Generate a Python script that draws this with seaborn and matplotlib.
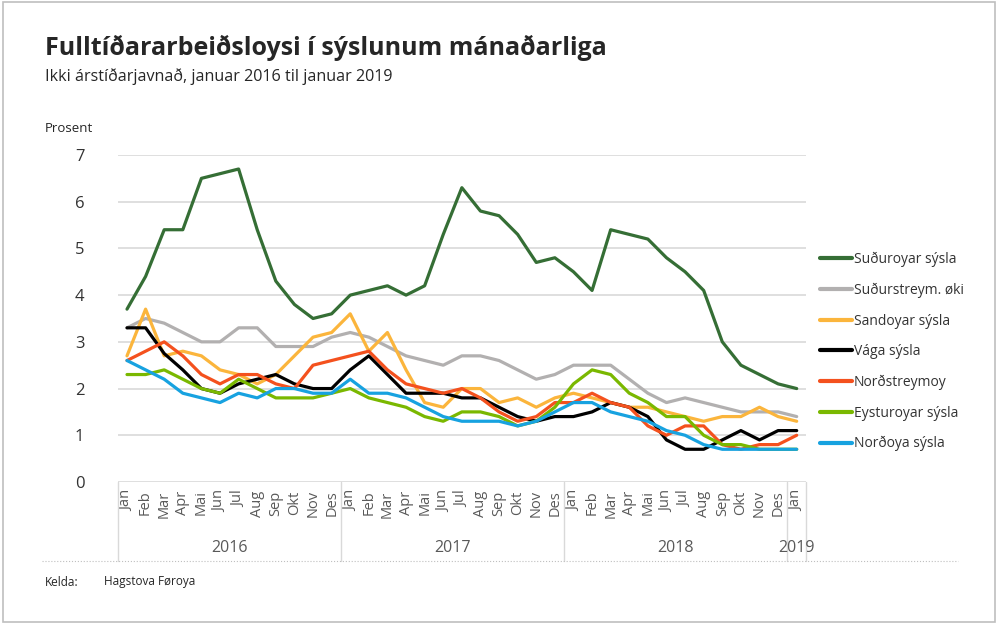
import matplotlib.pyplot as plt
import seaborn as sns
import pandas as pd
from matplotlib.lines import Line2D
from matplotlib.patches import Rectangle

months = ['Jan', 'Feb', 'Mar', 'Apr', 'Mai', 'Jun', 'Jul', 'Aug', 'Sep', 'Okt', 'Nov', 'Des'] * 3 + ['Jan']
years = ['2016', '2017', '2018', '2019']

names = ['Suðuroyar sýsla', 'Suðurstreym. øki', 'Sandoyar sýsla', 'Vága sýsla',
         'Norðstreymoy', 'Eysturoyar sýsla', 'Norðoya sýsla']
colors = ['#356e35', '#b2b0b0', '#fbb53c', '#000000', '#f4511e', '#7ab800', '#17a2e0']

suduroy = [3.7, 4.4, 5.4, 5.4, 6.5, 6.6, 6.7, 5.4, 4.3, 3.8, 3.5, 3.6,
           4.0, 4.1, 4.2, 4.0, 4.2, 5.3, 6.3, 5.8, 5.7, 5.3, 4.7, 4.8,
           4.5, 4.1, 5.4, 5.3, 5.2, 4.8, 4.5, 4.1, 3.0, 2.5, 2.3, 2.1, 2.0]
sudurstreym = [3.3, 3.5, 3.4, 3.2, 3.0, 3.0, 3.3, 3.3, 2.9, 2.9, 2.9, 3.1,
               3.2, 3.1, 2.9, 2.7, 2.6, 2.5, 2.7, 2.7, 2.6, 2.4, 2.2, 2.3,
               2.5, 2.5, 2.5, 2.2, 1.9, 1.7, 1.8, 1.7, 1.6, 1.5, 1.5, 1.5, 1.4]
sandoy = [2.7, 3.7, 2.7, 2.8, 2.7, 2.4, 2.3, 2.1, 2.3, 2.7, 3.1, 3.2,
          3.6, 2.8, 3.2, 2.4, 1.7, 1.6, 2.0, 2.0, 1.7, 1.8, 1.6, 1.8,
          1.9, 1.8, 1.7, 1.6, 1.6, 1.5, 1.4, 1.3, 1.4, 1.4, 1.6, 1.4, 1.3]
vaga = [3.3, 3.3, 2.75, 2.4, 2.0, 1.9, 2.1, 2.2, 2.3, 2.1, 2.0, 2.0,
        2.4, 2.7, 2.3, 1.9, 1.9, 1.9, 1.8, 1.8, 1.6, 1.4, 1.3, 1.4,
        1.4, 1.5, 1.7, 1.6, 1.4, 0.9, 0.7, 0.7, 0.9, 1.1, 0.9, 1.1, 1.1]
nordstreymoy = [2.6, 2.8, 3.0, 2.7, 2.3, 2.1, 2.3, 2.3, 2.1, 2.0, 2.5, 2.6,
                2.7, 2.8, 2.4, 2.1, 2.0, 1.9, 2.0, 1.8, 1.5, 1.3, 1.4, 1.7,
                1.7, 1.9, 1.7, 1.6, 1.2, 1.0, 1.2, 1.2, 0.8, 0.7, 0.8, 0.8, 1.0]
eysturoy = [2.3, 2.3, 2.4, 2.2, 2.0, 1.9, 2.2, 2.0, 1.8, 1.8, 1.8, 1.9,
            2.0, 1.8, 1.7, 1.6, 1.4, 1.3, 1.5, 1.5, 1.4, 1.2, 1.3, 1.6,
            2.1, 2.4, 2.3, 1.9, 1.7, 1.4, 1.4, 1.0, 0.8, 0.8, 0.7, 0.7, 0.7]
nordoy = [2.6, 2.4, 2.2, 1.9, 1.8, 1.7, 1.9, 1.8, 2.0, 2.0, 1.9, 1.9,
          2.2, 1.9, 1.9, 1.8, 1.6, 1.4, 1.3, 1.3, 1.3, 1.2, 1.3, 1.5,
          1.7, 1.7, 1.5, 1.4, 1.3, 1.1, 1.0, 0.8, 0.7, 0.7, 0.7, 0.7, 0.7]

values = [suduroy, sudurstreym, sandoy, vaga, nordstreymoy, eysturoy, nordoy]
df = pd.DataFrame({n: v for n, v in zip(names, values)})
df['idx'] = range(len(months))
long = df.melt(id_vars='idx', var_name='series', value_name='value')

sns.set_style('white')
plt.rcParams['font.family'] = ['Open Sans', 'DejaVu Sans']

fig = plt.figure(figsize=(10, 6.27), dpi=100)
ax = fig.add_axes([0.1177, 0.2313, 0.6883, 0.5215])
sns.lineplot(data=long, x='idx', y='value', hue='series', hue_order=names,
             palette=colors, linewidth=2.3, ax=ax, legend=False)

ax.set_xlim(-0.5, 36.5)
ax.set_ylim(0, 7)
ax.set_yticks(range(8))
ax.yaxis.grid(True, color='#d9d9d9', lw=1.2)
ax.set_axisbelow(True)
for s in ax.spines.values():
    s.set_visible(False)
ax.set_xlabel('')
ax.set_ylabel('')
ax.set_xticks(range(len(months)))
ax.set_xticklabels(months, rotation=90, fontsize=10.5, color='#595959')
ax.tick_params(axis='x', length=0, pad=6)
ax.tick_params(axis='y', length=0, pad=24, labelsize=12, labelcolor='#333333')

# year groups under the month labels
tr = ax.get_xaxis_transform()
for x in [-0.5, 11.5, 23.5, 35.5, 36.5]:
    ax.plot([x, x], [0, -0.2416], transform=tr, color='#d9d9d9', lw=1, clip_on=False)
for x, y in zip([5.5, 17.5, 29.5, 36], years):
    ax.text(x, -0.2018, y, transform=tr, ha='center', va='center', fontsize=11.5, color='#595959')

handles = [Line2D([], [], color=c, lw=3) for c in colors]
ax.legend(handles, names, loc='upper left', bbox_to_anchor=(0.82, 1 - 252 / 627),
          bbox_transform=fig.transFigure, frameon=False, fontsize=10,
          handlelength=2.3, handletextpad=0.15, labelspacing=1.12,
          borderpad=0, borderaxespad=0, labelcolor='#333333')

fig.text(0.045, 1 - 48 / 627, 'Fulltíðararbeiðsloysi í sýslunum mánaðarliga',
         fontsize=18, fontweight='bold', va='center')
fig.text(0.045, 1 - 77 / 627, 'Ikki árstíðarjavnað, januar 2016 til januar 2019',
         fontsize=11.6, va='center')
fig.text(0.045, 1 - 129 / 627, 'Prosent', fontsize=9.5, va='center')
fig.text(0.045, 1 - 582 / 627, 'Kelda:', fontsize=8.5, va='center')
fig.text(0.104, 1 - 582 / 627, 'Hagstova Føroya', fontsize=8.5, va='center')

fig.add_artist(Line2D([0.042, 0.958], [1 - 561 / 627] * 2, linestyle=':',
                      color='#bfbfbf', lw=0.8))
fig.add_artist(Rectangle((0.003, 1 - 622 / 627), 0.992, 620 / 627, fill=False,
                         edgecolor='#bfbfbf', lw=1.2, transform=fig.transFigure))

fig.savefig('out.png', dpi=100)
